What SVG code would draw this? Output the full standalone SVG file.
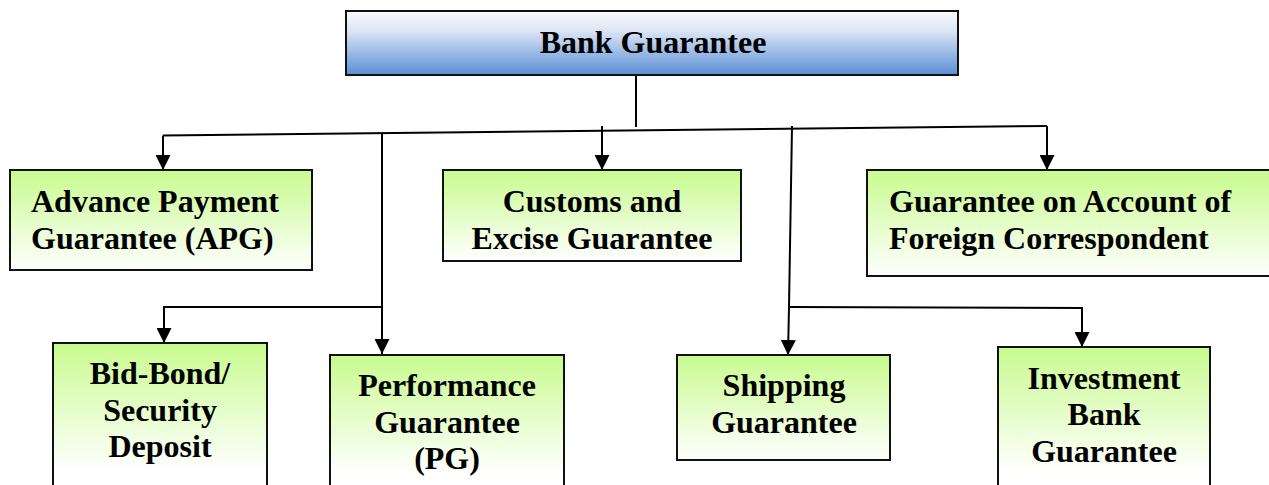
<svg xmlns="http://www.w3.org/2000/svg" width="1269" height="485" viewBox="0 0 1269 485">
  <defs>
    <linearGradient id="blueFill" x1="0" y1="0" x2="0" y2="1">
      <stop offset="0" stop-color="#fbfcfe"/>
      <stop offset="0.3" stop-color="#dde6f5"/>
      <stop offset="1" stop-color="#5a8fd6"/>
    </linearGradient>
    <linearGradient id="greenFill" x1="0" y1="0" x2="0" y2="1">
      <stop offset="0" stop-color="#c8fb8e"/>
      <stop offset="1" stop-color="#ffffff"/>
    </linearGradient>
    <linearGradient id="greenFillTall" x1="0" y1="0" x2="0" y2="1">
      <stop offset="0" stop-color="#c8fb8e"/>
      <stop offset="0.85" stop-color="#ffffff"/>
    </linearGradient>
    <marker id="arrow" markerUnits="userSpaceOnUse" markerWidth="15" markerHeight="15" refX="15" refY="7.5" orient="auto">
      <path d="M0,0 L15,7.5 L0,15 Z" fill="#000"/>
    </marker>
  </defs>
  <style>
    .box { stroke: #111; stroke-width: 2; }
    .top { fill: url(#blueFill); }
    .leaf { fill: url(#greenFill); }
    .tall { fill: url(#greenFillTall); }
    .lbl { font-family: "Liberation Serif", "Times New Roman", serif; font-weight: bold; font-size: 32px; fill: #000; }
    .mid { text-anchor: middle; }
    .conn { fill: none; stroke: #000; stroke-width: 2; }
    .arr { marker-end: url(#arrow); }
  </style>

  <!-- connectors -->
  <g id="connectors">
    <path class="conn" d="M636,75 V127"/>
    <path class="conn" d="M163,135.5 L1047,126"/>
    <path class="conn arr" d="M163,135.5 V170"/>
    <path class="conn arr" d="M602,126 V170"/>
    <path class="conn arr" d="M1047,126 V170"/>
    <path class="conn" d="M382,133 V307"/>
    <path class="conn arr" d="M382,307 V354"/>
    <path class="conn arr" d="M382,307 H164 V343"/>
    <path class="conn" d="M792,126 L789,307"/>
    <path class="conn arr" d="M789,307 L788,355"/>
    <path class="conn arr" d="M789,307 L1082,308 V347"/>
  </g>

  <!-- root -->
  <g id="bank-guarantee">
    <rect class="box top" x="346" y="11" width="612" height="64"/>
    <text class="lbl mid" x="653" y="53">Bank Guarantee</text>
  </g>

  <!-- first row -->
  <g id="advance-payment">
    <rect class="box leaf" x="10" y="170" width="302" height="100"/>
    <text class="lbl" x="31" y="212">Advance Payment</text>
    <text class="lbl" x="31" y="249">Guarantee (APG)</text>
  </g>
  <g id="customs-excise">
    <rect class="box leaf" x="443" y="170" width="298" height="91"/>
    <text class="lbl mid" x="592" y="212">Customs and</text>
    <text class="lbl mid" x="592" y="249">Excise Guarantee</text>
  </g>
  <g id="foreign-correspondent">
    <rect class="box leaf" x="867" y="170" width="410" height="106"/>
    <text class="lbl" x="889" y="212">Guarantee on Account of</text>
    <text class="lbl" x="889" y="249">Foreign Correspondent</text>
  </g>

  <!-- second row -->
  <g id="bid-bond">
    <rect class="box tall" x="53" y="343" width="214" height="150"/>
    <text class="lbl mid" x="160" y="384">Bid-Bond/</text>
    <text class="lbl mid" x="160" y="421">Security</text>
    <text class="lbl mid" x="160" y="457">Deposit</text>
  </g>
  <g id="performance">
    <rect class="box tall" x="330" y="355" width="234" height="140"/>
    <text class="lbl mid" x="447" y="396">Performance</text>
    <text class="lbl mid" x="447" y="433">Guarantee</text>
    <text class="lbl mid" x="447" y="469">(PG)</text>
  </g>
  <g id="shipping">
    <rect class="box leaf" x="677" y="355" width="213" height="105"/>
    <text class="lbl mid" x="784" y="396">Shipping</text>
    <text class="lbl mid" x="784" y="433">Guarantee</text>
  </g>
  <g id="investment-bank">
    <rect class="box tall" x="998" y="347" width="212" height="148"/>
    <text class="lbl mid" x="1104" y="389">Investment</text>
    <text class="lbl mid" x="1104" y="425">Bank</text>
    <text class="lbl mid" x="1104" y="462">Guarantee</text>
  </g>
</svg>
